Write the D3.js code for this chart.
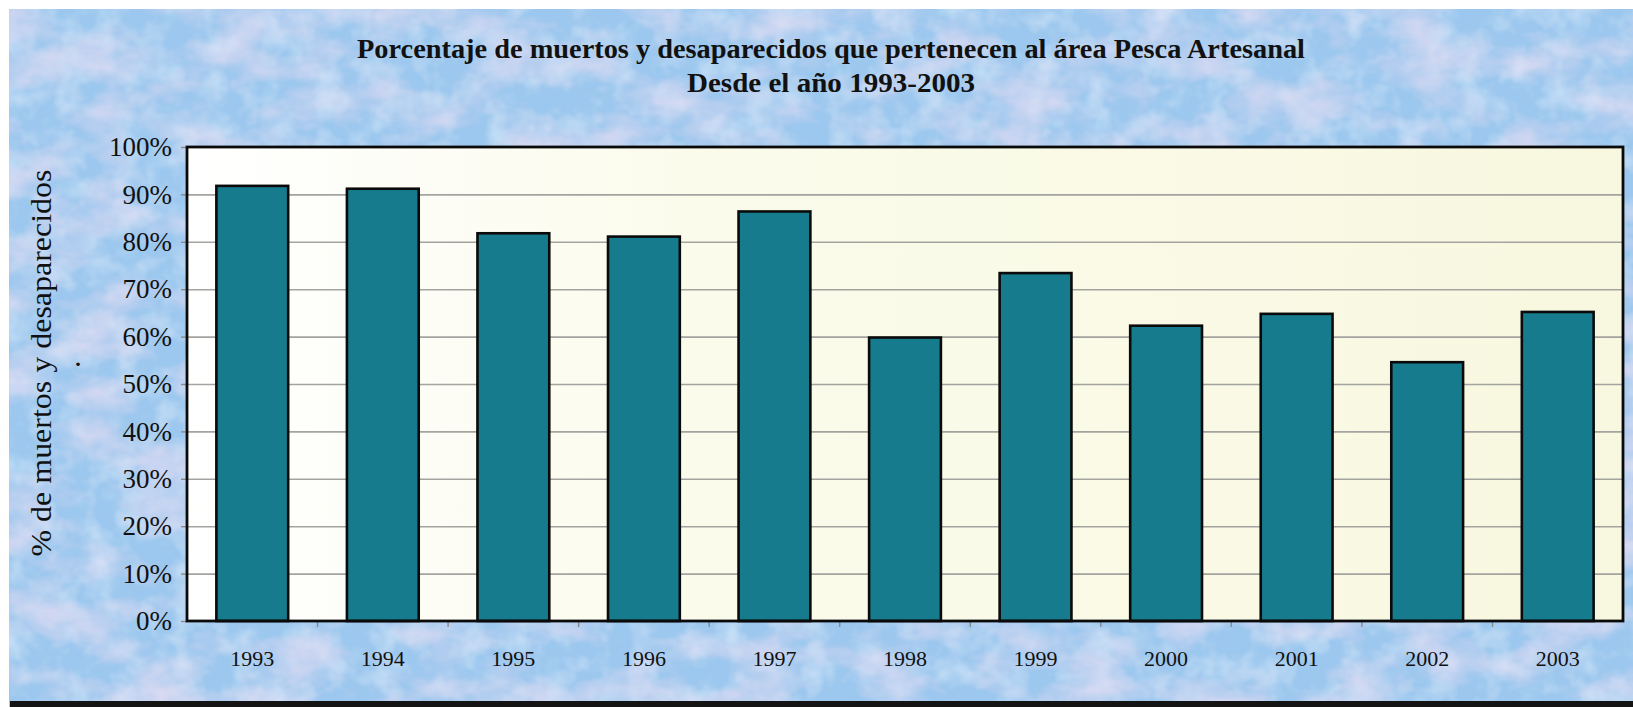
<!DOCTYPE html>
<html>
<head>
<meta charset="utf-8">
<script src="https://cdn.jsdelivr.net/npm/d3@7"></script>
<style>
  body { margin: 0; background: #fff; }
  text { font-family: "Liberation Serif", "DejaVu Serif", serif; fill: #111; }
</style>
</head>
<body>
<svg id="vis"></svg>
<script>
const W = 1633, H = 707;
const svg = d3.select("#vis").attr("width", W).attr("height", H);

// data
const years = ["1993", "1994", "1995", "1996", "1997", "1998", "1999", "2000", "2001", "2002", "2003"];
const shares = [91.8, 91.2, 81.8, 81.1, 86.4, 59.8, 73.4, 62.3, 64.8, 54.6, 65.2];
const yTicks = [0, 10, 20, 30, 40, 50, 60, 70, 80, 90, 100];
const titleLines = ["Porcentaje de muertos y desaparecidos que pertenecen al área Pesca Artesanal",
                    "Desde el año 1993-2003"];
const yTitle = "% de muertos y desaparecidos";

const BAR_COLOR = "#167b8d";

const plot = {left: 187, right: 1623, top: 147, bottom: 621};

let xscale = d3.scaleBand()
            .domain(years)
            .range([plot.left, plot.right])
            .paddingInner(0.45)
            .paddingOuter(0.225);

let yscale = d3.scaleLinear()
            .domain([0, 100])
            .range([plot.bottom, plot.top]);


function main() {
    drawBackground();
    drawTitle();
    drawPlotArea();
    drawBars();
    drawAxes();
}


function drawBackground() {
    const defs = svg.append("defs");

    // marbled paper look: soft lavender clouds over blue
    const f = defs.append("filter").attr("id", "marble")
        .attr("x", 0).attr("y", 0).attr("width", "100%").attr("height", "100%");
    f.append("feTurbulence")
        .attr("type", "fractalNoise")
        .attr("baseFrequency", "0.015 0.025")
        .attr("numOctaves", 4)
        .attr("seed", 11)
        .attr("result", "noise");
    f.append("feColorMatrix")
        .attr("in", "noise")
        .attr("type", "matrix")
        .attr("values", "0 0 0 0 0.80  0 0 0 0 0.74  0 0 0 0 0.90  1.5 0 0 0 -0.62")
        .attr("result", "pink");
    f.append("feTurbulence")
        .attr("type", "fractalNoise")
        .attr("baseFrequency", "0.035")
        .attr("numOctaves", 3)
        .attr("seed", 5)
        .attr("result", "noise2");
    f.append("feColorMatrix")
        .attr("in", "noise2")
        .attr("type", "matrix")
        .attr("values", "0 0 0 0 0.72  0 0 0 0 0.85  0 0 0 0 0.97  0 1.2 0 0 -0.55")
        .attr("result", "light");
    f.append("feColorMatrix")
        .attr("in", "noise2")
        .attr("type", "matrix")
        .attr("values", "0 0 0 0 0.50  0 0 0 0 0.72  0 0 0 0 0.92  0 0 -1.4 0 0.62")
        .attr("result", "deep");
    f.append("feMerge").call(m => {
        m.append("feMergeNode").attr("in", "SourceGraphic");
        m.append("feMergeNode").attr("in", "deep");
        m.append("feMergeNode").attr("in", "light");
        m.append("feMergeNode").attr("in", "pink");
    });

    const grad = defs.append("linearGradient").attr("id", "plotFill")
        .attr("x1", 0).attr("x2", 1).attr("y1", 0).attr("y2", 0);
    grad.append("stop").attr("offset", "0%").attr("stop-color", "#ffffff");
    grad.append("stop").attr("offset", "35%").attr("stop-color", "#fbfbec");
    grad.append("stop").attr("offset", "100%").attr("stop-color", "#f8f8e0");

    svg.append("rect")
        .attr("x", 9).attr("y", 9)
        .attr("width", W - 9).attr("height", H - 9)
        .attr("fill", "#9cc7ee")
        .attr("filter", "url(#marble)");

    // dark strip at the bottom edge of the scan
    svg.append("rect")
        .attr("x", 10).attr("y", 701)
        .attr("width", W - 10).attr("height", 6)
        .attr("fill", "#141414");
}


function drawTitle() {
    const widths = [948, 288];
    svg.selectAll(".title").data(titleLines).join("text")
        .attr("class", "title")
        .attr("x", 831)
        .attr("y", (d, i) => 58 + i * 34)
        .attr("text-anchor", "middle")
        .attr("textLength", (d, i) => widths[i])
        .attr("lengthAdjust", "spacingAndGlyphs")
        .style("font-size", "28px")
        .style("font-weight", "bold")
        .text(d => d);

    svg.append("text")
        .attr("transform", "translate(51,363) rotate(-90)")
        .attr("text-anchor", "middle")
        .attr("textLength", 387)
        .attr("lengthAdjust", "spacingAndGlyphs")
        .style("font-size", "30px")
        .text(yTitle);

    // stray dot that sits beside the axis title
    svg.append("text")
        .attr("x", 78).attr("y", 366)
        .attr("text-anchor", "middle")
        .style("font-size", "22px")
        .style("font-weight", "bold")
        .text(".");
}


function drawPlotArea() {
    svg.append("rect")
        .attr("x", plot.left).attr("y", plot.top)
        .attr("width", plot.right - plot.left)
        .attr("height", plot.bottom - plot.top)
        .attr("fill", "url(#plotFill)");

    // gridlines
    svg.append("g")
        .attr("class", "grid")
        .attr("transform", `translate(${plot.left},0)`)
        .call(d3.axisLeft(yscale).tickValues(yTicks.slice(1, -1)).tickSize(-(plot.right - plot.left)).tickFormat(""))
        .call(g => g.select(".domain").remove())
        .call(g => g.selectAll("line").attr("stroke", "#a3a3a0").attr("stroke-width", 1.6));
}


function drawBars() {
    svg.selectAll(".bars").data(shares).join(
        enter => enter.append("rect")
            .attr("class", "bars")
            .attr("x", (d, i) => xscale(years[i]))
            .attr("y", d => yscale(d))
            .attr("width", xscale.bandwidth())
            .attr("height", d => yscale(0) - yscale(d))
            .attr("fill", BAR_COLOR)
            .attr("stroke", "#0a0a0a")
            .attr("stroke-width", 2.6)
    );
}


function drawAxes() {
    // y axis labels and small outside ticks
    svg.append("g")
        .attr("transform", `translate(${plot.left},0)`)
        .call(d3.axisLeft(yscale).tickValues(yTicks).tickSize(6).tickPadding(9).tickFormat(d => d + "%"))
        .call(g => g.select(".domain").remove())
        .call(g => g.selectAll("line").attr("stroke", "#8a8a8a").attr("stroke-width", 1.4))
        .call(g => g.selectAll("text")
            .style("font-size", "27px")
            .style("font-family", "'Liberation Serif', serif")
            .attr("fill", "#111"));

    // x axis: ticks between categories, labels under bars
    const step = xscale.step();
    const bounds = years.slice(0, -1).map(y => xscale(y) + xscale.bandwidth() + (step - xscale.bandwidth()) / 2);
    svg.selectAll(".xtick").data(bounds).join("line")
        .attr("class", "xtick")
        .attr("x1", d => d).attr("x2", d => d)
        .attr("y1", plot.bottom).attr("y2", plot.bottom + 6)
        .attr("stroke", "#8a8a8a").attr("stroke-width", 1.4);

    svg.selectAll(".xlabel").data(years).join("text")
        .attr("class", "xlabel")
        .attr("x", d => xscale(d) + xscale.bandwidth() / 2)
        .attr("y", 666)
        .attr("text-anchor", "middle")
        .style("font-size", "22px")
        .text(d => d);

    // plot frame
    svg.append("rect")
        .attr("x", plot.left).attr("y", plot.top)
        .attr("width", plot.right - plot.left)
        .attr("height", plot.bottom - plot.top)
        .attr("fill", "none")
        .attr("stroke", "#0a0a0a")
        .attr("stroke-width", 2.8);
}


main();
</script>
</body>
</html>
